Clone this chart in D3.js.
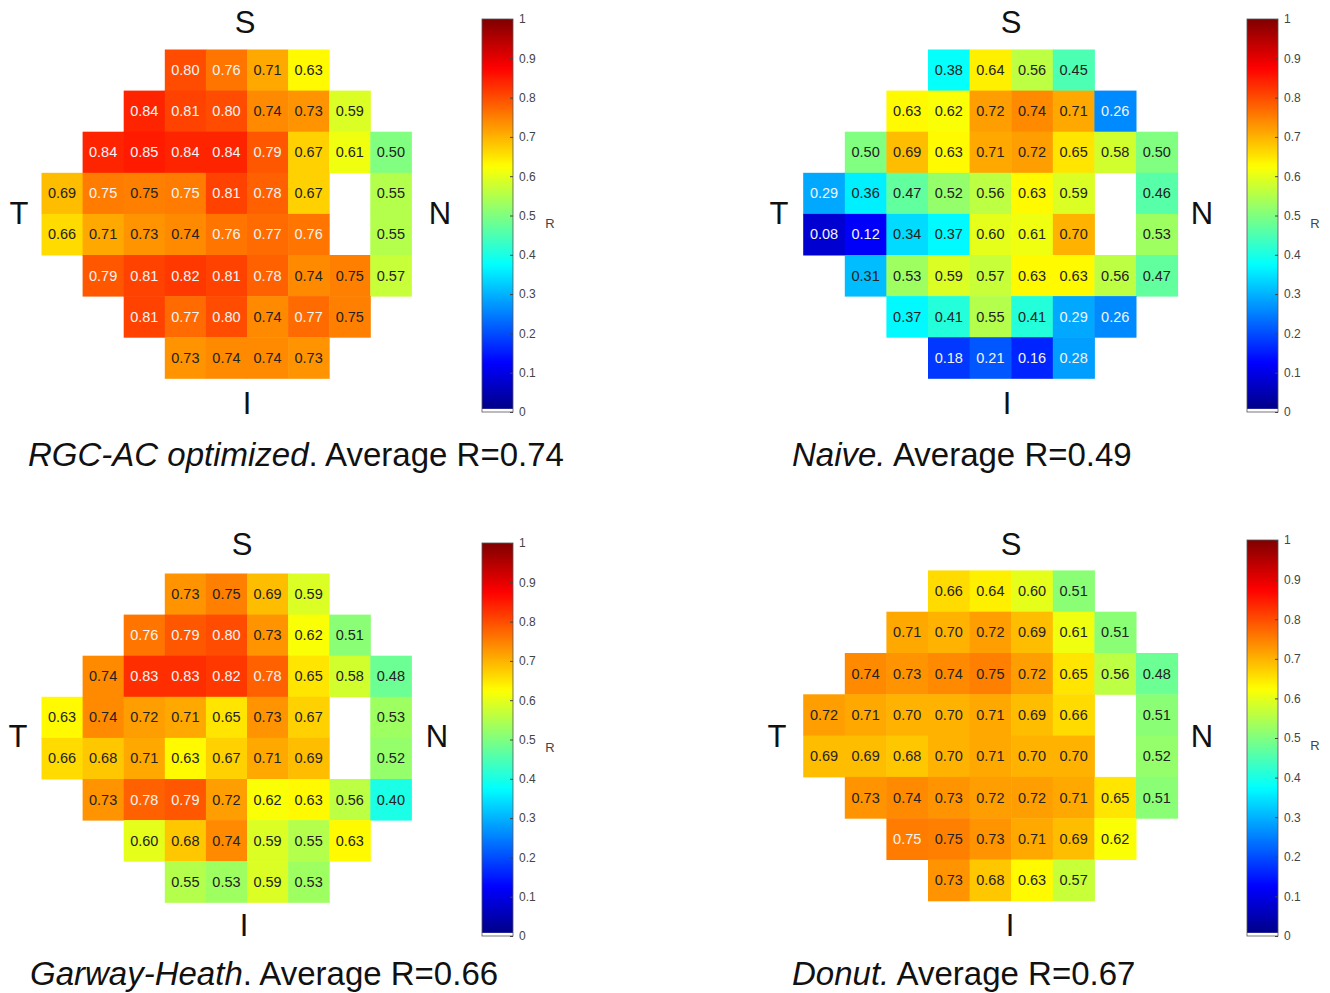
<!DOCTYPE html>
<html>
<head>
<meta charset="utf-8">
<script src="https://cdn.jsdelivr.net/npm/d3@7"></script>
<style>
  body { margin: 0; background: #fff; }
  svg text { font-family: "Liberation Sans", Arial, sans-serif; }
</style>
</head>
<body>
<svg id="chart" width="1330" height="993"></svg>
<script>
// grid values, 8 rows x 9 columns, null = no test point
var rgcValues = [
  [null, null, null, 0.80, 0.76, 0.71, 0.63, null, null],
  [null, null, 0.84, 0.81, 0.80, 0.74, 0.73, 0.59, null],
  [null, 0.84, 0.85, 0.84, 0.84, 0.79, 0.67, 0.61, 0.50],
  [0.69, 0.753, 0.75, 0.753, 0.81, 0.78, 0.67, null, 0.55],
  [0.66, 0.71, 0.73, 0.74, 0.76, 0.77, 0.76, null, 0.55],
  [null, 0.79, 0.81, 0.82, 0.81, 0.78, 0.74, 0.75, 0.57],
  [null, null, 0.81, 0.77, 0.80, 0.74, 0.77, 0.75, null],
  [null, null, null, 0.73, 0.74, 0.74, 0.73, null, null]
];
var naiveValues = [
  [null, null, null, 0.38, 0.64, 0.56, 0.45, null, null],
  [null, null, 0.63, 0.62, 0.72, 0.74, 0.71, 0.26, null],
  [null, 0.50, 0.69, 0.63, 0.71, 0.72, 0.65, 0.58, 0.50],
  [0.29, 0.36, 0.47, 0.52, 0.56, 0.63, 0.59, null, 0.46],
  [0.08, 0.12, 0.34, 0.37, 0.60, 0.61, 0.70, null, 0.53],
  [null, 0.31, 0.53, 0.59, 0.57, 0.63, 0.63, 0.56, 0.47],
  [null, null, 0.37, 0.41, 0.55, 0.41, 0.29, 0.26, null],
  [null, null, null, 0.18, 0.21, 0.16, 0.28, null, null]
];
var garwayValues = [
  [null, null, null, 0.73, 0.75, 0.69, 0.59, null, null],
  [null, null, 0.76, 0.79, 0.80, 0.73, 0.62, 0.51, null],
  [null, 0.74, 0.83, 0.83, 0.82, 0.78, 0.65, 0.58, 0.48],
  [0.63, 0.74, 0.72, 0.71, 0.65, 0.73, 0.67, null, 0.53],
  [0.66, 0.68, 0.71, 0.63, 0.67, 0.71, 0.69, null, 0.52],
  [null, 0.73, 0.78, 0.79, 0.72, 0.62, 0.63, 0.56, 0.40],
  [null, null, 0.60, 0.68, 0.74, 0.59, 0.55, 0.63, null],
  [null, null, null, 0.55, 0.53, 0.59, 0.53, null, null]
];
var donutValues = [
  [null, null, null, 0.66, 0.64, 0.60, 0.51, null, null],
  [null, null, 0.71, 0.70, 0.72, 0.69, 0.61, 0.51, null],
  [null, 0.74, 0.73, 0.74, 0.75, 0.72, 0.65, 0.56, 0.48],
  [0.72, 0.71, 0.70, 0.70, 0.71, 0.69, 0.66, null, 0.51],
  [0.69, 0.69, 0.68, 0.70, 0.71, 0.70, 0.70, null, 0.52],
  [null, 0.73, 0.74, 0.73, 0.72, 0.72, 0.71, 0.65, 0.51],
  [null, null, 0.753, 0.75, 0.73, 0.71, 0.69, 0.62, null],
  [null, null, null, 0.73, 0.68, 0.63, 0.57, null, null]
];

var titleItalic = ["RGC-AC optimized", "Naive.", "Garway-Heath", "Donut."];
var titleRest = [". Average R=0.74", " Average R=0.49", ". Average R=0.66", " Average R=0.67"];
var sideLabels = ["S", "T", "N", "I"];
var colorbarTicks = [0, 0.1, 0.2, 0.3, 0.4, 0.5, 0.6, 0.7, 0.8, 0.9, 1];

// layout of the four panels (pixels)
var layout = [
  { gx: 41.5, gy: 49.5, cw: 41.1, ch: 41.1, bx: 482, by0: 19, by1: 412,
    S: [245, 33], T: [19, 224], N: [440, 224], I: [247, 414], tx: 28, ty: 466 },
  { gx: 803.2, gy: 49.5, cw: 41.6, ch: 41.1, bx: 1247, by0: 19, by1: 412,
    S: [1011, 33], T: [779, 224], N: [1202, 224], I: [1007, 414], tx: 792, ty: 466 },
  { gx: 41.5, gy: 573.5, cw: 41.1, ch: 41.1, bx: 482, by0: 543, by1: 936,
    S: [242, 555], T: [18, 747], N: [437, 747], I: [244, 936], tx: 30, ty: 985 },
  { gx: 803.2, gy: 570.4, cw: 41.6, ch: 41.3, bx: 1247, by0: 540, by1: 936,
    S: [1011, 555], T: [777, 747], N: [1202, 747], I: [1010, 936], tx: 792, ty: 985 }
];
var allValues = [rgcValues, naiveValues, garwayValues, donutValues];

// matlab style jet
function jet(v) {
  var x = Math.max(0, Math.min(1, v));
  var c = function(t) { return Math.round(255 * Math.max(0, Math.min(1, t))); };
  return d3.rgb(c(1.5 - Math.abs(4 * x - 3)), c(1.5 - Math.abs(4 * x - 2)), c(1.5 - Math.abs(4 * x - 1))).toString();
}

var svg = d3.select("#chart");
var defs = svg.append("defs");
var grad = defs.append("linearGradient").attr("id", "jetGrad")
  .attr("x1", 0).attr("y1", 1).attr("x2", 0).attr("y2", 0);
d3.range(0, 101).forEach(function(i) {
  grad.append("stop").attr("offset", (i / 100)).attr("stop-color", jet(i / 100));
});

function drawPanel(p, values, lay) {
  var g = svg.append("g").attr("id", "panel" + p);
  var x = d3.scaleBand().domain(d3.range(9)).range([lay.gx, lay.gx + 9 * lay.cw]);
  var y = d3.scaleBand().domain(d3.range(8)).range([lay.gy, lay.gy + 8 * lay.ch]);

  var cells = [];
  values.forEach(function(row, r) {
    row.forEach(function(v, c) {
      if (v !== null) cells.push({ r: r, c: c, v: v });
    });
  });

  g.selectAll("rect.cell").data(cells).enter().append("rect")
    .attr("class", "cell")
    .attr("x", function(d) { return x(d.c); })
    .attr("y", function(d) { return y(d.r); })
    .attr("width", x.bandwidth() + 0.5)
    .attr("height", y.bandwidth() + 0.5)
    .attr("fill", function(d) { return jet(d.v); });

  g.selectAll("text.val").data(cells).enter().append("text")
    .attr("class", "val")
    .attr("x", function(d) { return x(d.c) + x.bandwidth() / 2; })
    .attr("y", function(d) { return y(d.r) + y.bandwidth() / 2 + 5; })
    .attr("text-anchor", "middle")
    .attr("font-size", "14.5px")
    .attr("fill", function(d) { return (d.v > 0.75 || d.v < 0.30) ? "#f4f4f4" : "#222"; })
    .text(function(d) { return d.v.toFixed(2); });

  // orientation letters
  sideLabels.forEach(function(s) {
    g.append("text")
      .attr("x", lay[s][0]).attr("y", lay[s][1])
      .attr("text-anchor", "middle")
      .attr("font-size", "31px")
      .attr("fill", "#111")
      .text(s);
  });

  // colorbar
  var cb = d3.scaleLinear().domain([0, 1]).range([lay.by1, lay.by0]);
  g.append("rect")
    .attr("x", lay.bx).attr("y", lay.by0)
    .attr("width", 31).attr("height", lay.by1 - lay.by0)
    .attr("fill", "url(#jetGrad)");
  g.append("rect")
    .attr("x", lay.bx).attr("y", cb(0.008))
    .attr("width", 31).attr("height", lay.by1 - cb(0.008))
    .attr("fill", "#fff");
  g.append("rect")
    .attr("x", lay.bx).attr("y", lay.by0)
    .attr("width", 31).attr("height", lay.by1 - lay.by0)
    .attr("fill", "none").attr("stroke", "#555").attr("stroke-width", 0.8);

  var axis = d3.axisRight(cb).tickValues(colorbarTicks)
    .tickSizeInner(-3).tickSizeOuter(0).tickPadding(6)
    .tickFormat(d3.format("~g"));
  var ax = g.append("g").attr("transform", "translate(" + (lay.bx + 31) + ",0)").call(axis);
  ax.select(".domain").remove();
  ax.selectAll("line").attr("stroke", "#444");
  ax.selectAll("text").attr("font-size", "12px").attr("fill", "#444")
    .attr("font-family", "Liberation Sans, Arial, sans-serif");

  g.append("text")
    .attr("x", lay.bx + 68).attr("y", (lay.by0 + lay.by1) / 2 + 12)
    .attr("text-anchor", "middle")
    .attr("font-size", "13px").attr("fill", "#444")
    .text("R");

  // title
  var t = g.append("text").attr("x", lay.tx).attr("y", lay.ty)
    .attr("font-size", "33px").attr("fill", "#111");
  t.append("tspan").attr("font-style", "italic").text(titleItalic[p]);
  t.append("tspan").text(titleRest[p]);
}

allValues.forEach(function(v, i) { drawPanel(i, v, layout[i]); });
</script>
</body>
</html>
